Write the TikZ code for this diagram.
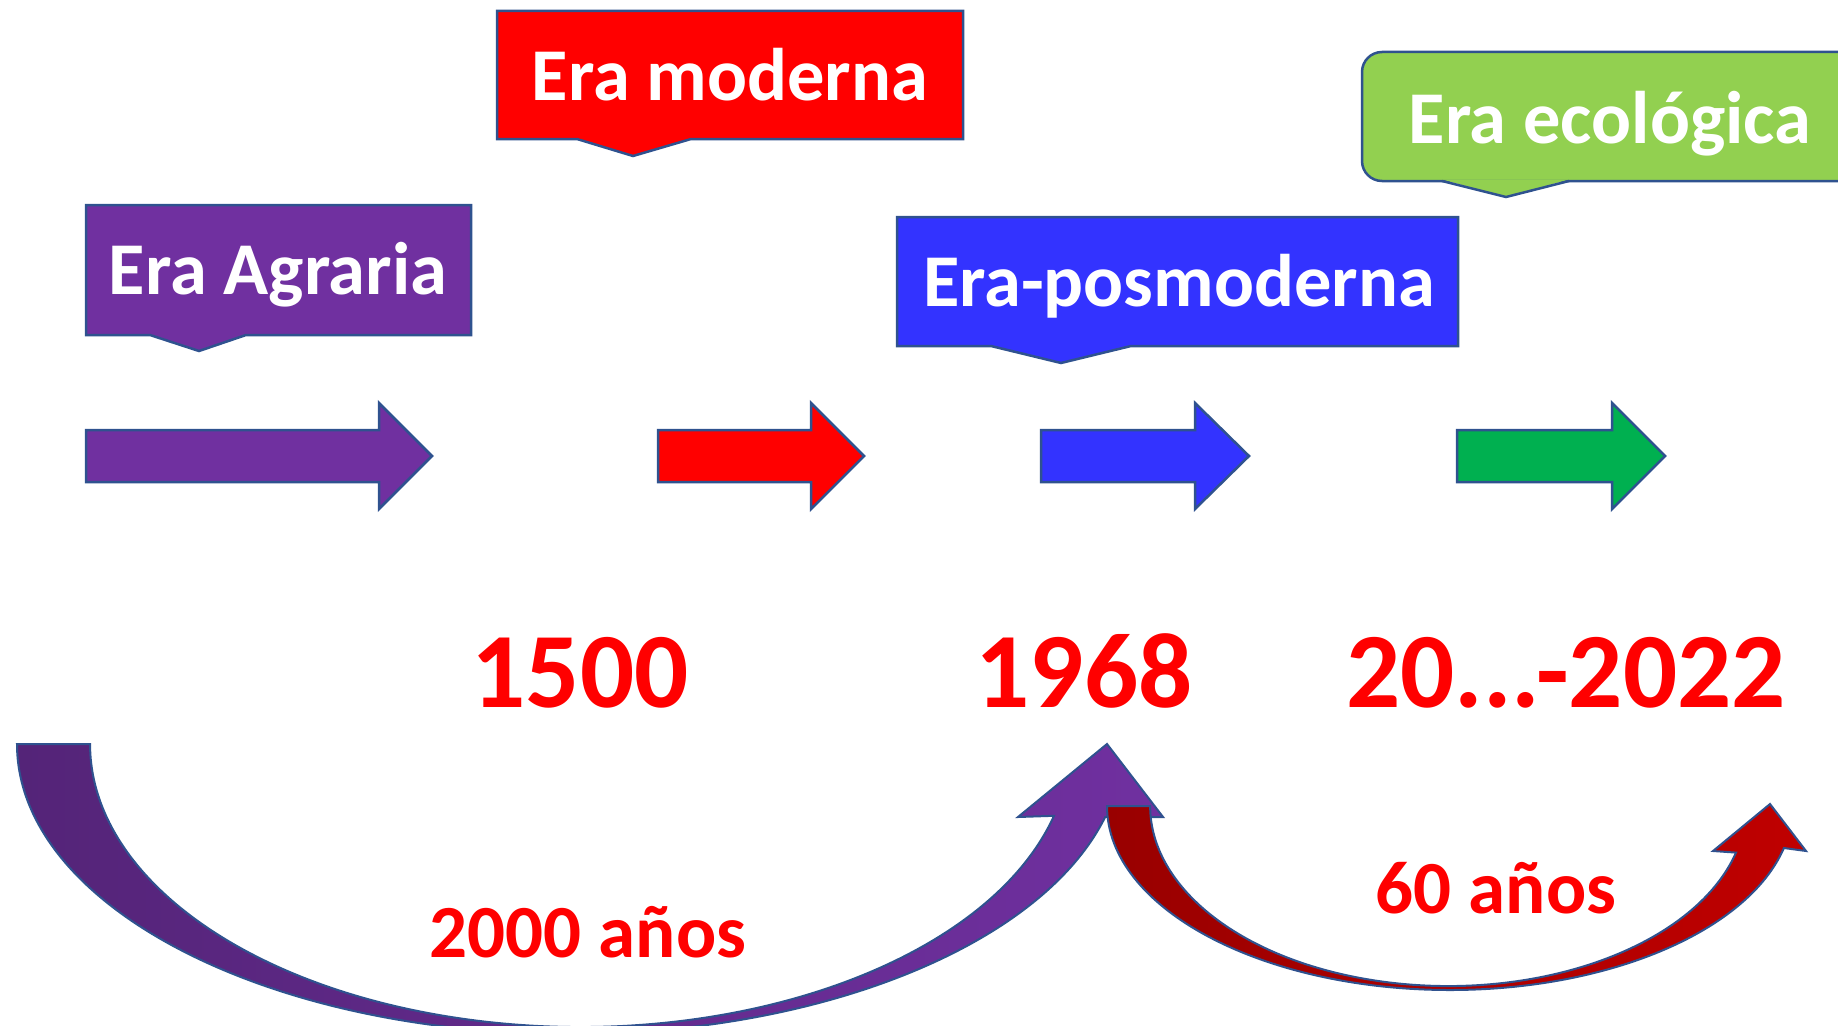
\documentclass[tikz,border=0pt]{standalone}
\usepackage{fontspec}
\setmainfont{Carlito}
\usetikzlibrary{positioning}

\definecolor{agrario}{HTML}{7030A0}
\definecolor{moderno}{HTML}{FF0000}
\definecolor{posmoderno}{HTML}{3333FF}
\definecolor{ecologico}{HTML}{92D050}
\definecolor{verde}{HTML}{00B050}
\definecolor{edgeblue}{HTML}{2F528F}

\begin{document}
\begin{tikzpicture}[
    x=1pt, y=-1pt,
    outline/.style={draw=edgeblue, line width=2.5pt, line join=miter},
    eralabel/.style={anchor=base, text=white, inner sep=0pt, font=\fontsize{74.5}{80}\selectfont\bfseries},
    yearlabel/.style={anchor=base, text=red, inner sep=0pt, font=\fontsize{107}{110}\selectfont\bfseries},
    spanlabel/.style={anchor=base, text=red, inner sep=0pt, font=\fontsize{75}{84}\selectfont\bfseries}
]
\useasboundingbox (0,0) rectangle (1838,1025);
\clip (0,0) rectangle (1838,1025);

% Era boxes
\draw[outline, fill=agrario] (86,205) -- (471,205) -- (471,335) -- (246,335) -- (199,351) -- (150,335) -- (86,335) -- cycle;
\draw[outline, fill=moderno] (497,11) -- (963,11) -- (963,139) -- (691,139) -- (633,156) -- (577,139) -- (497,139) -- cycle;
\draw[outline, fill=posmoderno] (897,217) -- (1458,217) -- (1458,346) -- (1131,346) -- (1061,363) -- (991,346) -- (897,346) -- cycle;
\draw[outline, fill=ecologico, rounded corners=20pt] (1362,52) rectangle (1880,181);
\fill[ecologico] (1442,179.5) -- (1506,197) -- (1569,179.5) -- cycle;
\draw[outline] (1442,181) -- (1506,197) -- (1569,181);

\node[eralabel] (agraria) at (278,294) {Era Agraria};
\node[eralabel] (moderna) at (730,100) {Era moderna};
\node[eralabel] (posmoderna) at (1179,306) {Era-posmoderna};
\node[eralabel] (ecologica) at (1610,143) {Era ecológica};

% Straight arrows
\foreach \xa/\xb/\xt/\col in {86/379/432/agrario, 658/811/864/moderno, 1041/1195/1249/posmoderno, 1457/1612/1665/verde}
    \draw[outline, fill=\col] (\xa,430) -- (\xb,430) -- (\xb,403) -- (\xt,456) -- (\xb,509) -- (\xb,482) -- (\xa,482) -- cycle;

% Years
\node[yearlabel] (y1500) at (580,707) {1500};
\node[yearlabel] (y1968) at (1084,707) {1968};
\node[yearlabel] (y2022) at (1566,707) {20...-2022};

% Curved arrows
\draw[outline, line width=2pt, left color=agrario!75!black, right color=agrario]
    (17,744) arc[start angle=180, end angle=14.6, x radius=553, y radius=290]
    -- (1163,817) -- (1107,744) -- (1018,817) -- (1054,815.8)
    arc[start angle=14.7, end angle=180, x radius=490, y radius=283] -- cycle;
\draw[outline, line width=2pt, left color=red!60!black, right color=red!75!black]
    (1107,806) arc[start angle=180, end angle=13.2, x radius=343, y radius=184]
    -- (1806,851) -- (1770,804) -- (1713,851) -- (1736,852.6)
    arc[start angle=15, end angle=180, x radius=298, y radius=180] -- cycle;

\node[spanlabel] (span2000) at (588,957) {2000 años};
\node[spanlabel] (span60) at (1496,913) {60 años};

\end{tikzpicture}
\end{document}
